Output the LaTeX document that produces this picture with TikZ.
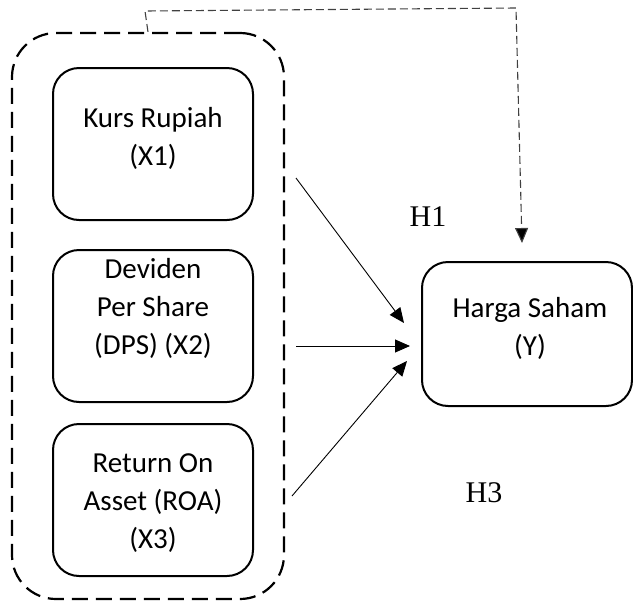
\documentclass[tikz,border=0pt]{standalone}
\usepackage{fontspec}
\setmainfont{Carlito}
\newfontfamily\timesf{Liberation Serif}
\usetikzlibrary{arrows.meta}
\begin{document}
\begin{tikzpicture}[x=1pt,y=-1pt,
  varbox/.style={draw,line width=2pt,rounded corners=26pt,minimum width=200pt,minimum height=152pt,inner sep=0pt},
  vartext/.style={align=center,font=\fontsize{29}{38}\selectfont},
  hyp/.style={font=\timesf\fontsize{30}{34}\selectfont},
  arr/.style={line width=0.9pt,-{Triangle[length=15pt,width=13pt]}},
  dasharr/.style={line width=1.1pt,draw=black!75,dash pattern=on 8pt off 4pt,-{Triangle[length=15pt,width=13pt,fill=black]}}]
\useasboundingbox (0,0) rectangle (633,603);
\node[draw,line width=2.2pt,dash pattern=on 16pt off 8pt,rounded corners=44pt,minimum width=272pt,minimum height=566pt] (grp) at (148,316) {};
\node[varbox] (b1) at (153,144) {};
\node[varbox] (b2) at (153,326) {};
\node[varbox] (b3) at (153,500) {};
\node[vartext] (t1) at (153,138) {Kurs Rupiah\\(X1)};
\node[vartext] (t2) at (153,308) {Deviden\\Per Share\\(DPS) (X2)};
\node[vartext] (t3) at (153,503) {Return On\\Asset (ROA)\\(X3)};
\node[draw,line width=2pt,rounded corners=26pt,minimum width=210pt,minimum height=144pt] (y) at (527,334) {};
\node[vartext] (ty) at (530,328) {Harga Saham\\(Y)};
\node[hyp] (h1) at (428,217) {H1};
\node[hyp] (h3) at (484,493) {H3};
\coordinate (a1s) at (296,178);
\coordinate (a1e) at (404,323);
\coordinate (a2s) at (296,346);
\coordinate (a2e) at (410,346);
\coordinate (a3s) at (292,496);
\coordinate (a3e) at (407,361);
\draw[arr] (a1s) -- (a1e);
\draw[arr] (a2s) -- (a2e);
\draw[arr] (a3s) -- (a3e);
\coordinate (c1) at (145,11);
\coordinate (c2) at (516,8);
\coordinate (c3) at (522,243);
\draw[dasharr] (grp.north) -- (c1) -- (c2) -- (c3);
\end{tikzpicture}
\end{document}
